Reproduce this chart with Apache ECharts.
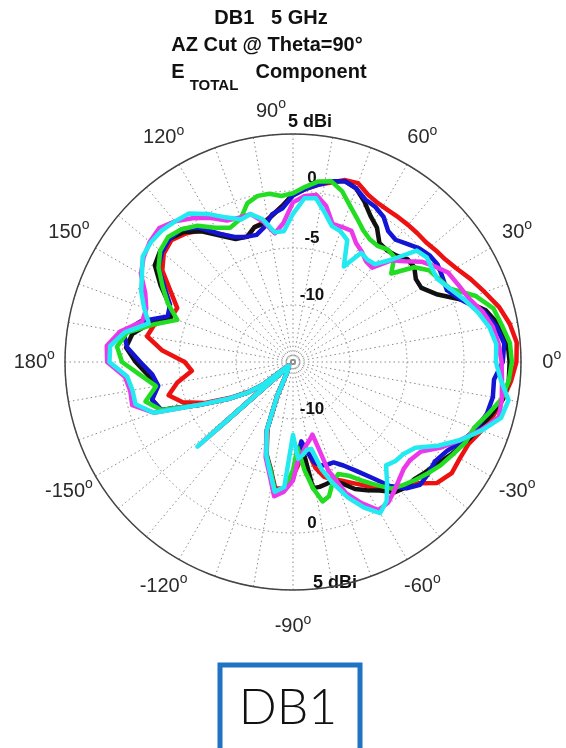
<!DOCTYPE html>
<html><head><meta charset="utf-8">
<script src="https://cdn.jsdelivr.net/npm/echarts@6/dist/echarts.min.js"></script>
<style>html,body{margin:0;padding:0;background:#fff}#c{width:566px;height:748px}</style>
</head><body><div id="c"></div>
<script>
// Azimuth angles (deg) shared by every trace
const angles = [-180,-175,-170,-165,-160,-155,-150,-146,-143,-141,-138.5,-136,-128,-120,-115,-111,-106,-102,-98,-94,-90,-87,-84,-81,-78,-75,-72,-68,-64,-60,-56,-52,-48,-44,-40,-35,-30,-25,-20,-15,-10,-5,0,5,10,15,20,25,30,34,38,42,46,50,54,58,62,66,70,74,78,82,86,90,94,98,102,106,110,115,120,125,130,135,140,145,150,155,160,165,170,175,180];
// Gain (dBi) per trace
const redGain = [-5.5,-6.1,-4.7,-3.7,-4.7,-6.5,-8.8,-10.3,-11.7,-14.5,-6.8,-14.5,-14.5,-14.0,-11.8,-8.8,-6.6,-5.5,-3.8,-3.9,-5.0,-6.0,-7.0,-7.2,-5.5,-4.6,-4.2,-3.8,-3.2,-2.5,-1.6,-0.8,-0.2,0.3,1.5,2.0,1.9,2.0,2.6,3.2,3.7,4.2,4.6,4.7,4.3,3.7,2.9,2.2,1.5,1.1,0.9,0.7,0.7,0.7,0.7,0.7,0.8,1.1,1.7,1.6,1.1,0.7,0.2,-0.3,-1.3,-2.0,-2.5,-2.7,-3.3,-3.0,-2.0,-0.9,-0.3,0.1,-0.2,-1.0,-2.6,-3.8,-3.6,-2.4,-2.0,-3.5,-5.5];
const blackGain = [-1.2,-2.2,-2.8,-2.2,-2.7,-6.2,-8.6,-10.2,-11.6,-14.5,-8.5,-14.5,-14.5,-14.0,-11.7,-8.6,-6.5,-5.4,-3.6,-3.8,-4.8,-6.5,-7.6,-3.8,-3.8,-3.9,-4.0,-3.5,-2.6,-2.0,-1.4,-0.5,-0.2,-0.2,0.1,0.5,1.1,1.7,2.3,3.0,3.7,4.0,4.0,3.9,3.4,2.5,0.9,-1.0,-2.0,-2.0,-1.5,-1.5,-2.0,-2.2,-2.1,-1.1,-0.5,0.4,1.2,1.5,1.2,0.8,0.3,-0.3,-1.3,-2.0,-2.6,-2.7,-3.3,-3.1,-2.2,-1.0,-0.1,0.3,0.2,-0.2,-1.6,-3.0,-3.6,-2.0,-0.7,-0.3,-1.2];
const blueGain = [-1.6,-2.6,-3.0,-2.2,-2.7,-6.2,-8.6,-10.2,-11.6,-14.5,-6.0,-14.5,-14.5,-14.0,-11.7,-8.6,-6.5,-5.4,-3.6,-3.8,-5.0,-6.8,-8.0,-7.0,-6.0,-5.6,-5.5,-5.5,-4.9,-4.0,-2.8,-1.2,-0.1,0.5,0.4,0.2,0.6,1.4,2.1,2.6,2.8,2.7,3.4,3.6,3.1,2.3,0.8,-0.1,0.1,0.3,0.2,-0.1,-0.6,-1.0,-0.8,0.0,0.4,0.6,1.2,1.5,1.2,0.7,0.2,-0.4,-1.5,-1.9,-2.9,-3.4,-3.3,-2.9,-2.0,-0.6,0.2,0.3,0.0,-0.6,-2.0,-3.1,-3.3,-1.2,0.1,-0.4,-1.6];
const greenGain = [0.0,-1.6,-2.8,-1.6,-2.7,-6.2,-8.6,-10.2,-11.6,-14.5,-5.2,-14.5,-14.5,-14.0,-11.7,-8.6,-6.5,-5.4,-3.6,-3.8,-5.5,-7.5,-5.5,-3.8,-2.5,-2.8,-3.8,-4.4,-3.9,-3.0,-2.0,-0.9,-0.5,-0.1,0.3,0.8,1.2,1.7,1.9,2.7,3.6,4.0,4.2,4.1,3.6,3.2,2.0,0.2,-0.3,-0.6,-1.5,-3.4,-2.2,-2.1,-2.4,-2.3,-1.9,-1.2,-0.4,0.6,1.2,1.0,0.4,-0.2,-0.4,-0.1,-0.1,-0.5,-1.6,-2.0,-1.4,-0.4,0.2,0.5,0.2,-0.6,-1.8,-2.9,-4.2,-2.3,-0.2,0.5,0.0];
const magentaGain = [1.3,-0.2,-0.5,-0.4,-2.0,-6.2,-8.6,-10.2,-11.6,-14.5,-4.0,-14.5,-14.5,-14.0,-11.7,-8.6,-6.3,-5.0,-3.1,-3.6,-4.6,-6.4,-7.0,-7.6,-8.0,-8.4,-5.0,-2.6,-1.2,0.0,-0.1,-0.6,-1.1,-1.5,-1.6,-1.3,0.0,1.2,2.5,3.7,3.6,3.4,3.3,3.1,2.8,2.2,1.4,1.0,0.7,0.0,-0.7,-1.8,-2.6,-4.2,-4.1,-3.6,-3.2,-2.4,-2.4,-2.4,-1.0,-0.2,-0.4,-1.0,-2.8,-3.6,-2.4,-1.5,-1.5,-1.3,-0.4,0.4,1.1,1.6,1.4,1.0,0.4,-0.7,-1.3,-1.3,0.4,1.4,1.3];
const cyanGain = [1.1,-0.4,-0.7,-0.7,-2.0,-6.2,-8.6,-10.2,-11.6,-14.5,-3.8,-14.5,-14.5,-14.0,-11.7,-8.6,-6.5,-5.2,-3.5,-4.0,-8.6,-6.5,-6.8,-7.2,-7.2,-5.2,-3.9,-2.2,-0.8,0.3,-0.3,-1.6,-2.8,-2.5,-2.4,-1.9,-0.3,1.2,2.6,3.9,4.2,3.3,2.8,2.9,2.5,1.8,1.0,0.2,-0.4,-0.3,-0.1,-0.4,-2.5,-3.8,-3.9,-3.7,-5.5,-3.3,-2.8,-2.6,-1.6,-0.5,-0.6,-2.0,-3.5,-3.5,-2.2,-1.5,-1.7,-1.0,0.0,0.9,1.1,1.3,1.3,1.1,0.3,-0.3,-1.1,-1.9,0.0,1.1,1.1];
// Axis labels
const angleTickLabels = [0,30,60,90,120,150,180,-150,-120,-90,-60,-30];
const upperRingLabels = [0,-5,-10];
const lowerRingLabels = [-10,0];
const rMin = -15, rMax = 5;
const titleLines = ['DB1   5 GHz','AZ Cut @ Theta=90\u00b0'];

const traces = [
  {name:'red', gain:redGain, color:'#ee1111'},
  {name:'black', gain:blackGain, color:'#111111'},
  {name:'blue', gain:blueGain, color:'#1414d4'},
  {name:'green', gain:greenGain, color:'#22dd22'},
  {name:'magenta', gain:magentaGain, color:'#ea38ea'},
  {name:'cyan', gain:cyanGain, color:'#22eaf0'}
];

const chart = echarts.init(document.getElementById('c'), null, {renderer:'canvas'});
const option = {
  animation:false,
  backgroundColor:'#fff',
  polar:{center:[293,362], radius:228},
  angleAxis:{type:'value', min:-180, max:180, interval:10, startAngle:180, clockwise:false,
    axisLine:{show:true, lineStyle:{color:'#444', width:1.5}},
    axisTick:{show:false}, axisLabel:{show:false},
    splitLine:{show:true, lineStyle:{color:'#8a8a8a', width:1, type:[1.5,3]}}},
  radiusAxis:{type:'value', min:rMin, max:rMax, interval:5,
    axisLine:{show:false}, axisTick:{show:false}, axisLabel:{show:false},
    splitLine:{show:true, lineStyle:{color:'#8a8a8a', width:1, type:[1.5,3]}}},
  series: traces.map(t => ({
    type:'line', coordinateSystem:'polar', name:t.name, symbol:'none', smooth:false,
    lineStyle:{color:t.color, width:4.5, join:'round', cap:'round'},
    data: angles.map((a,i)=>[t.gain[i], a])
  }))
};
chart.setOption(option);

const toPx = (r,a) => chart.convertToPixel({seriesIndex:0}, [r,a]);
const c0 = toPx(rMin, 0);
const els = [];
const labelFont = '20px "Liberation Sans", Arial, sans-serif';
const nudge = {90:[-22,8], '-90':[0,6]};
angleTickLabels.forEach(a => {
  const p = toPx(rMax, a);
  const k = 1.135;
  let x = c0[0] + (p[0]-c0[0])*k, y = c0[1] + (p[1]-c0[1])*k;
  if (nudge[a]) { x += nudge[a][0]; y += nudge[a][1]; }
  els.push({type:'text', x:x, y:y, style:{
    text:'{a|'+a+'}{s|o}', align:'center', verticalAlign:'middle', textAlign:'center', textVerticalAlign:'middle',
    rich:{a:{font:labelFont, fill:'#2a2a2a', color:'#2a2a2a'},
          s:{font:'14px "Liberation Sans", Arial, sans-serif', fill:'#2a2a2a', color:'#2a2a2a', padding:[0,0,14,0]}}
  }});
});
const ringFont = 'bold 17px "Liberation Sans", Arial, sans-serif';
upperRingLabels.forEach(v => {
  const p = toPx(v, 90);
  els.push({type:'text', x:p[0]+19, y:p[1]-(v===0?13:9.5), style:{text:String(v), font:ringFont, fill:'#111', align:'center', verticalAlign:'middle', textAlign:'center', textVerticalAlign:'middle'}});
});
lowerRingLabels.forEach(v => {
  const p = toPx(v, -90);
  els.push({type:'text', x:p[0]+19, y:p[1]-9.5, style:{text:String(v), font:ringFont, fill:'#111', align:'center', verticalAlign:'middle', textAlign:'center', textVerticalAlign:'middle'}});
});
const pTop = toPx(rMax, 90), pBot = toPx(rMax, -90);
els.push({type:'text', x:pTop[0]+17, y:pTop[1]-12, style:{text:rMax+' dBi', font:'bold 18px "Liberation Sans", Arial, sans-serif', fill:'#111', align:'center', verticalAlign:'middle', textAlign:'center', textVerticalAlign:'middle'}});
els.push({type:'text', x:pBot[0]+42, y:pBot[1]-7, style:{text:rMax+' dBi', font:'bold 18px "Liberation Sans", Arial, sans-serif', fill:'#111', align:'center', verticalAlign:'middle', textAlign:'center', textVerticalAlign:'middle'}});
// Title
const tFont = 'bold 20px "Liberation Sans", Arial, sans-serif';
els.push({type:'text', x:271, y:18, style:{text:titleLines[0], font:tFont, fill:'#111', align:'center', verticalAlign:'middle', textAlign:'center', textVerticalAlign:'middle'}});
els.push({type:'text', x:267, y:45, style:{text:titleLines[1], font:tFont, fill:'#111', align:'center', verticalAlign:'middle', textAlign:'center', textVerticalAlign:'middle'}});
els.push({type:'text', x:178, y:72, style:{text:'E', font:tFont, fill:'#111', align:'center', verticalAlign:'middle', textAlign:'center', textVerticalAlign:'middle'}});
els.push({type:'text', x:214, y:86, style:{text:'TOTAL', font:'bold 15px "Liberation Sans", Arial, sans-serif', fill:'#111', align:'center', verticalAlign:'middle', textAlign:'center', textVerticalAlign:'middle'}});
els.push({type:'text', x:311, y:72, style:{text:'Component', font:tFont, fill:'#111', align:'center', verticalAlign:'middle', textAlign:'center', textVerticalAlign:'middle'}});
// Bottom tag
els.push({type:'rect', shape:{x:220, y:665, width:140, height:100}, style:{fill:'#fff', stroke:'#1f73c3', lineWidth:5}});
els.push({type:'text', x:288, y:708, style:{text:'DB1', font:'300 50px Lato, "Open Sans", sans-serif', fill:'#111', align:'center', verticalAlign:'middle', textAlign:'center', textVerticalAlign:'middle'}});
chart.setOption({graphic:{elements:els}});
</script></body></html>
